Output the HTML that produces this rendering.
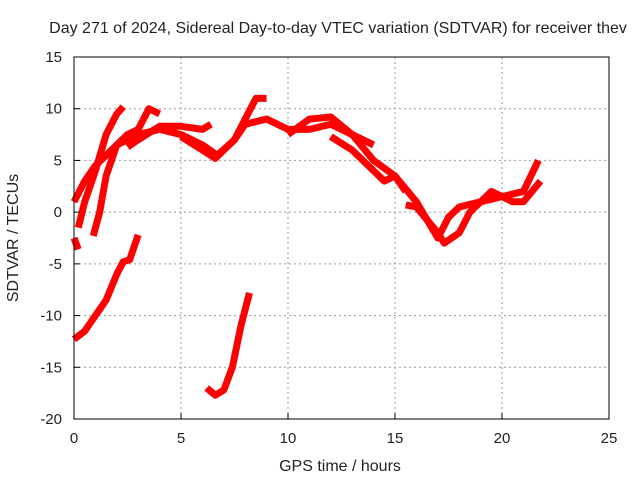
<!DOCTYPE html>
<html><head><meta charset="utf-8"><style>
body{margin:0;background:#fff}
svg text{font-family:"Liberation Sans",sans-serif;font-size:16px;fill:#222}
svg text.tk{font-size:15px}
</style></head><body>
<svg id="chart" width="640" height="480">
<text x="338" y="33" text-anchor="middle">Day 271 of 2024, Sidereal Day-to-day VTEC variation (SDTVAR) for receiver thev</text>
<g id="grid"></g><g id="series"></g><g id="axes"></g>
<text x="340" y="471" text-anchor="middle">GPS time / hours</text>
<text transform="translate(18,238) rotate(-90)" text-anchor="middle">SDTVAR / TECUs</text>
</svg>
<script>
const xTicks=[0,5,10,15,20,25];
const yTicks=[15,10,5,0,-5,-10,-15,-20];
const seriesA=[[0,-12.3],[0.5,-11.5],[1,-10],[1.5,-8.5],[2,-6],[2.3,-4.8],[2.6,-4.6],[3,-2.2]];
const seriesB=[[0,-2.5],[0.2,-3.6]];
const seriesC=[[6.2,-17],[6.6,-17.7],[7,-17.2],[7.4,-15],[7.8,-11],[8.2,-7.8]];
const seriesD=[[0.2,-1.5],[0.5,1],[1,4],[1.5,7.5],[2,9.5],[2.3,10.2]];
const seriesE=[[0.9,-2.3],[1.2,0],[1.5,3.5],[2,6.5],[2.5,7.5],[3,8],[3.5,10],[4,9.5]];
const seriesF=[[0,1],[0.5,3],[1,4.5],[2,6.5],[3,7.5],[4,8],[5,7.5],[6,6.5],[6.7,5.5],[7.5,7],[8,8.5],[9,9],[10,8],[11,8],[12,8.5],[13,7.5],[14,5],[15,3.5],[16,1],[17,-2.5],[17.5,-0.5],[18,0.5],[19,1],[20,1.5],[21,2],[21.7,5]];
const seriesG=[[2.5,6.3],[3,7],[4,8.3],[5,8.3],[6,8],[6.4,8.5]];
const seriesH=[[5,7.3],[6,6],[6.6,5.2],[7.5,7],[8,9],[8.5,11],[9,11]];
const seriesI=[[10,7.5],[11,9],[12,9.2],[13,7.5],[14,6.5]];
const seriesJ=[[12,7.3],[13,6],[14,4],[14.5,3],[15,3.5],[15.5,2]];
const seriesK=[[15.5,0.7],[16,0.5],[17,-2],[17.3,-3],[18,-2],[18.5,0],[19.5,2],[20.5,1],[21,1],[21.8,3]];
const allSeries=[seriesA,seriesB,seriesC,seriesD,seriesE,seriesF,seriesG,seriesH,seriesI,seriesJ,seriesK];
const X0=74,X1=609,Y0=57,Y1=419;
function xs(h){return X0+(h-0)/(25-0)*(X1-X0);}
function ys(v){return Y0+(15-v)/(15-(-20))*(Y1-Y0);}
const NS="http://www.w3.org/2000/svg";
const grid=document.getElementById('grid'),axes=document.getElementById('axes'),ser=document.getElementById('series');
function mk(tag,attrs,parent){const e=document.createElementNS(NS,tag);for(const k in attrs)e.setAttribute(k,attrs[k]);parent.appendChild(e);return e;}
xTicks.forEach(t=>{
 const x=xs(t);
 if(t>0&&t<25){const g=mk('line',{x1:x,x2:x,y1:Y0,y2:Y1,stroke:'#999','stroke-dasharray':'2,3'},grid);
 
 }
 const tk=mk('line',{x1:x,x2:x,y1:Y1,y2:Y1-6,stroke:'#000'},axes);
 
 
 const tx=mk('text',{x:x,y:Y1+24,'text-anchor':'middle','class':'tk'},axes);tx.textContent=t;
 
 
});
yTicks.forEach(t=>{
 const y=ys(t);
 if(t<15&&t>-20){const g=mk('line',{x1:X0,x2:X1,y1:y,y2:y,stroke:'#999','stroke-dasharray':'2,3'},grid);
 
 }
 const tk=mk('line',{x1:X0,x2:X0+6,y1:y,y2:y,stroke:'#000'},axes);
 
 
 const tx=mk('text',{x:X0-12,y:y+5,'text-anchor':'end','class':'tk'},axes);tx.textContent=t;
 
 
});
const fr=mk('rect',{x:X0,y:Y0,width:X1-X0,height:Y1-Y0,fill:'none',stroke:'#000'},axes);


allSeries.forEach(s=>{
 const p=mk('polyline',{points:s.map(d=>xs(d[0])+','+ys(d[1])).join(' '),fill:'none',stroke:'#f00','stroke-width':7,'stroke-linejoin':'round','stroke-linecap':'butt'},ser);
 
 
});
</script>
</body></html>
